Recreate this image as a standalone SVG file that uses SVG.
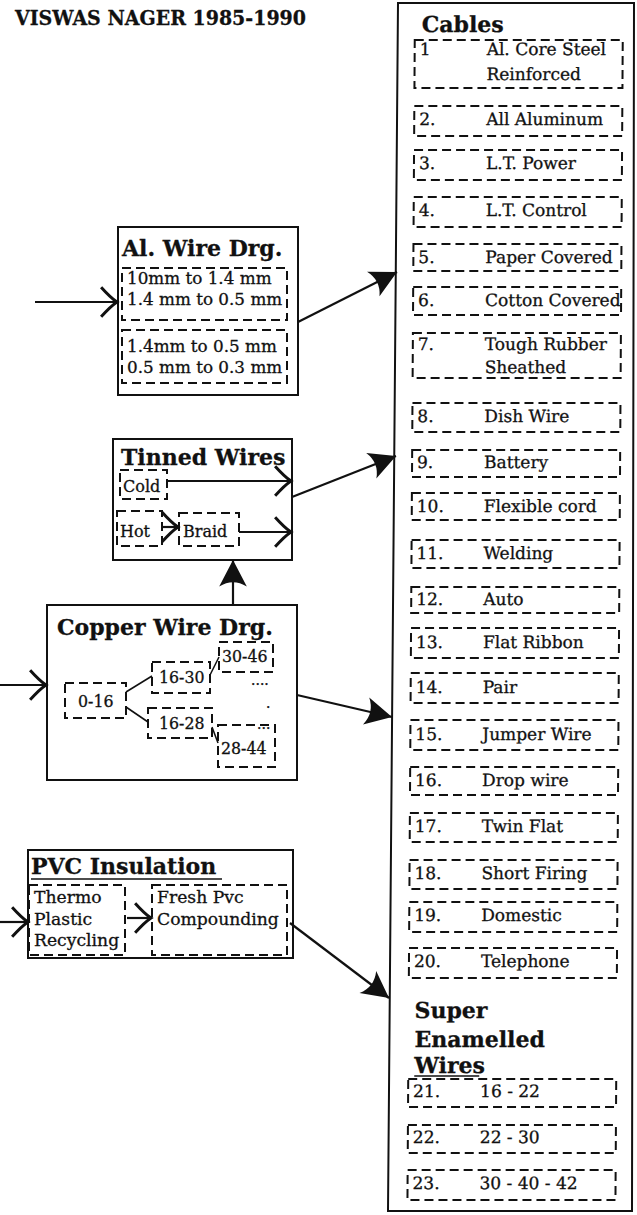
<svg xmlns="http://www.w3.org/2000/svg" width="637" height="1215" viewBox="0 0 637 1215">
<style>
.t{font-family:"DejaVu Serif","Liberation Serif",serif;fill:#111;stroke:#111;stroke-width:0.3}
.b{font-weight:bold}
.s17{font-size:17px}
.s16{font-size:16px}
.p{font-size:17.2px}
.s15{font-size:16.8px}
.c{font-size:15.8px}
.h{font-size:22px;font-weight:bold}
.box{fill:none;stroke:#111;stroke-width:2}
.dash{fill:none;stroke:#111;stroke-width:2;stroke-dasharray:9 5}
.ln{fill:none;stroke:#111;stroke-width:2.2}
.thin{fill:none;stroke:#111;stroke-width:1.6}
</style>
<defs>
<marker id="open" markerUnits="userSpaceOnUse" markerWidth="30" markerHeight="36" viewBox="-18 -17 22 34" refX="0" refY="0" orient="auto">
<path d="M-15,-14 Q-6,-4 0,0 Q-6,4 -15,14" fill="none" stroke="#111" stroke-width="2.8"/>
</marker>
<marker id="fill" markerUnits="userSpaceOnUse" markerWidth="34" markerHeight="34" viewBox="-28 -16 30 32" refX="0" refY="0" orient="auto">
<path d="M0,0 L-25,-13 Q-17,0 -25,13 Z" fill="#111"/>
</marker>
</defs>

<text class="t b" x="15" y="25" font-size="21" textLength="291" lengthAdjust="spacingAndGlyphs">VISWAS NAGER 1985-1990</text>

<g id="al-wire">
<rect class="box" x="118" y="227" width="180" height="168"/>
<text class="t h" x="122" y="256">Al. Wire Drg.</text>
<rect class="dash" x="122" y="268" width="165" height="52"/>
<text class="t s15" x="127" y="284">10mm to 1.4 mm</text>
<text class="t s15" x="127" y="305">1.4 mm to 0.5 mm</text>
<rect class="dash" x="122" y="330" width="165" height="53"/>
<text class="t s15" x="127" y="352">1.4mm to 0.5 mm</text>
<text class="t s15" x="127" y="373">0.5 mm to 0.3 mm</text>
</g>

<g id="tinned">
<rect class="box" x="113" y="439" width="179" height="121"/>
<text class="t h" x="121" y="465">Tinned Wires</text>
<rect class="dash" x="120" y="470" width="47" height="29"/>
<text class="t s16" x="123" y="492">Cold</text>
<rect class="dash" x="117" y="511" width="45" height="35"/>
<text class="t s16" x="120" y="537">Hot</text>
<rect class="dash" x="179" y="513" width="60" height="33"/>
<text class="t s16" x="183" y="537">Braid</text>
</g>

<g id="copper">
<rect class="box" x="47" y="605" width="250" height="175"/>
<text class="t h" x="57" y="635">Copper Wire Drg.</text>
<rect class="dash" x="65" y="683" width="61" height="35"/>
<text class="t c" x="78" y="707">0-16</text>
<rect class="dash" x="152" y="662" width="58" height="31"/>
<text class="t c" x="159" y="683">16-30</text>
<rect class="dash" x="148" y="708" width="64" height="30"/>
<text class="t c" x="159" y="729">16-28</text>
<rect class="dash" x="219" y="642" width="54" height="30"/>
<text class="t c" x="222" y="662">30-46</text>
<rect class="dash" x="218" y="725" width="57" height="42"/>
<text class="t c" x="221" y="754">28-44</text>
<text class="t" x="251" y="685" font-size="14">....</text>
<text class="t" x="266" y="708" font-size="14">.</text>
<text class="t" x="257" y="729" font-size="14">...</text>
<line class="thin" x1="126" y1="692" x2="152" y2="676"/>
<line class="thin" x1="126" y1="707" x2="148" y2="722"/>
<line class="thin" x1="210" y1="675" x2="219" y2="657"/>
<line class="thin" x1="212" y1="727" x2="218" y2="743"/>
</g>

<g id="pvc">
<rect class="box" x="28" y="850" width="265" height="108"/>
<text class="t h" x="31" y="874">PVC Insulation</text>
<line class="thin" x1="31" y1="879" x2="222" y2="879"/>
<rect class="dash" x="29" y="885" width="96" height="70"/>
<text class="t p" x="34" y="903">Thermo</text>
<text class="t p" x="34" y="925">Plastic</text>
<text class="t p" x="34" y="946">Recycling</text>
<rect class="dash" x="152" y="885" width="135" height="70"/>
<text class="t p" x="157" y="903">Fresh Pvc</text>
<text class="t p" x="157" y="925">Compounding</text>
</g>

<g id="cables">
<polygon class="box" points="398,3 634,3 632,1211 388,1211"/>
<g transform="skewX(-0.36)">
<text class="t h" x="422" y="32">Cables</text>
<g class="dash">
<rect x="415" y="40" width="208" height="48"/>
<rect x="415" y="106" width="208" height="30"/>
<rect x="415" y="150" width="208" height="30"/>
<rect x="415" y="197" width="208" height="30"/>
<rect x="415" y="244" width="208" height="27"/>
<rect x="415" y="287" width="208" height="28"/>
<rect x="415" y="333" width="208" height="45"/>
<rect x="415" y="403" width="208" height="29"/>
<rect x="415" y="450" width="208" height="27"/>
<rect x="415" y="493" width="208" height="27"/>
<rect x="415" y="540" width="208" height="28"/>
<rect x="415" y="587" width="208" height="26"/>
<rect x="415" y="628" width="208" height="30"/>
<rect x="415" y="673" width="208" height="30"/>
<rect x="415" y="720" width="208" height="30"/>
<rect x="415" y="767" width="208" height="28"/>
<rect x="415" y="813" width="208" height="29"/>
<rect x="415" y="860" width="208" height="29"/>
<rect x="415" y="902" width="208" height="30"/>
<rect x="415" y="948" width="208" height="30"/>
<rect x="415" y="1079" width="208" height="28"/>
<rect x="415" y="1125" width="208" height="28"/>
<rect x="415" y="1170" width="208" height="30"/>
</g>
<g class="t s17">
<text x="420" y="55">1</text><text x="487" y="55">Al. Core Steel</text><text x="487" y="80">Reinforced</text>
<text x="420" y="125">2.</text><text x="487" y="125">All Aluminum</text>
<text x="420" y="169">3.</text><text x="487" y="169">L.T. Power</text>
<text x="420" y="216">4.</text><text x="487" y="216">L.T. Control</text>
<text x="420" y="263">5.</text><text x="487" y="263">Paper Covered</text>
<text x="420" y="306">6.</text><text x="487" y="306">Cotton Covered</text>
<text x="420" y="350">7.</text><text x="487" y="350">Tough Rubber</text><text x="487" y="373">Sheathed</text>
<text x="420" y="422">8.</text><text x="487" y="422">Dish Wire</text>
<text x="420" y="468">9.</text><text x="487" y="468">Battery</text>
<text x="420" y="512">10.</text><text x="487" y="512">Flexible cord</text>
<text x="420" y="559">11.</text><text x="487" y="559">Welding</text>
<text x="420" y="605">12.</text><text x="487" y="605">Auto</text>
<text x="420" y="648">13.</text><text x="487" y="648">Flat Ribbon</text>
<text x="420" y="693">14.</text><text x="487" y="693">Pair</text>
<text x="420" y="740">15.</text><text x="487" y="740">Jumper Wire</text>
<text x="420" y="786">16.</text><text x="487" y="786">Drop wire</text>
<text x="420" y="832">17.</text><text x="487" y="832">Twin Flat</text>
<text x="420" y="879">18.</text><text x="487" y="879">Short Firing</text>
<text x="420" y="921">19.</text><text x="487" y="921">Domestic</text>
<text x="420" y="967">20.</text><text x="487" y="967">Telephone</text>
<text x="420" y="1097">21.</text><text x="487" y="1097">16 - 22</text>
<text x="420" y="1143">22.</text><text x="487" y="1143">22 - 30</text>
<text x="420" y="1189">23.</text><text x="487" y="1189">30 - 40 - 42</text>
</g>
<text class="t h" x="421" y="1018">Super</text>
<text class="t h" x="421" y="1047">Enamelled</text>
<text class="t h" x="421" y="1073">Wires</text>
<line class="thin" x1="421" y1="1076" x2="486" y2="1076"/>
</g>
</g>

<g id="connectors">
<line class="ln" x1="35" y1="302" x2="117" y2="302" marker-end="url(#open)"/>
<line class="ln" x1="0" y1="685" x2="46" y2="685" marker-end="url(#open)"/>
<line class="ln" x1="0" y1="922" x2="28" y2="922" marker-end="url(#open)"/>
<line class="ln" x1="127" y1="918" x2="151" y2="918" marker-end="url(#open)"/>
<line class="ln" x1="167" y1="481" x2="291" y2="481" marker-end="url(#open)"/>
<line class="ln" x1="162" y1="527" x2="178" y2="527" marker-end="url(#open)"/>
<line class="ln" x1="239" y1="532" x2="291" y2="532" marker-end="url(#open)"/>
<line class="ln" x1="298" y1="322" x2="397" y2="272" marker-end="url(#fill)"/>
<line class="ln" x1="292" y1="497" x2="396" y2="456" marker-end="url(#fill)"/>
<line class="ln" x1="297" y1="695" x2="392" y2="717" marker-end="url(#fill)"/>
<line class="ln" x1="290" y1="923" x2="389" y2="998" marker-end="url(#fill)"/>
<line class="ln" x1="233" y1="605" x2="233" y2="560" marker-end="url(#fill)"/>
</g>
</svg>
